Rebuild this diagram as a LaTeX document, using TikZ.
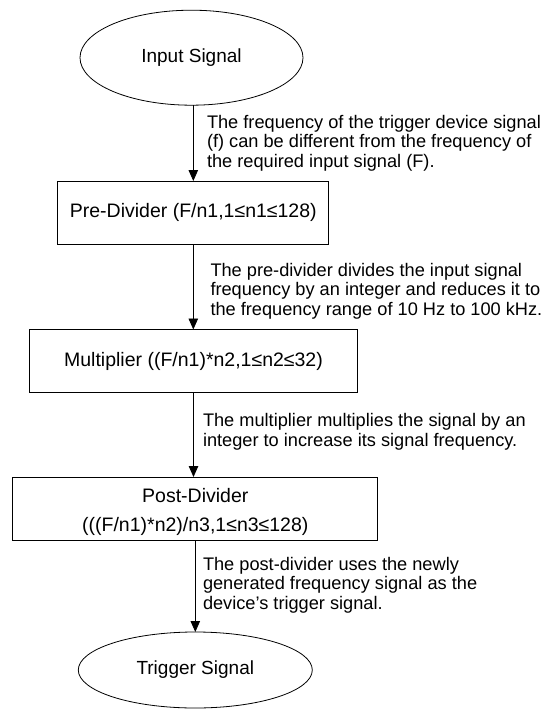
\documentclass[tikz,border=0pt]{standalone}
\usepackage{fontspec}
\setmainfont{Liberation Sans}
\usetikzlibrary{shapes.geometric,arrows.meta}
\begin{document}
\begin{tikzpicture}[x=1pt,y=-1pt,
  every node/.style={inner sep=0pt, outer sep=0pt},
  term/.style={draw, ellipse, line width=0.8pt, font=\fontsize{19}{22}\selectfont},
  procbox/.style={draw, rectangle, line width=0.8pt, align=center, font=\fontsize{19.5}{29}\selectfont},
  note/.style={anchor=west, align=left, font=\fontsize{18.2}{19.6}\selectfont},
  flow/.style={draw, line width=0.8pt, -{Triangle[width=9.5pt,length=11pt]}}]
\useasboundingbox (0,0) rectangle (541,709);
\node[term, minimum width=223pt, minimum height=95pt] (in) at (191.5,57.7) {Input Signal};
\node[procbox, minimum width=271pt, minimum height=63pt] (pre) at (193.3,212.5) {Pre-Divider (F/n1,1≤n1≤128)};
\node[procbox, minimum width=328pt, minimum height=63pt] (mul) at (193.5,361) {Multiplier ((F/n1)*n2,1≤n2≤32)};
\node[procbox, minimum width=365pt, minimum height=63pt] (post) at (195.3,508.5) {\rule{0pt}{22pt}Post-Divider\\[0pt](((F/n1)*n2)/n3,1≤n3≤128)};
\node[term, minimum width=234pt, minimum height=76pt] (trig) at (195.3,670) {Trigger Signal};
\draw[flow] (in.south -| pre.north) -- (pre.north);
\draw[flow] (pre.south) -- (pre.south |- mul.north);
\draw[flow] (mul.south) -- (mul.south |- post.north);
\draw[flow] (post.south) -- (trig.north);
\node[note] (n1) at (207,143) {The frequency of the trigger device signal\\(f) can be different from the frequency of\\the required input signal (F).};
\node[note] (n2) at (210.5,291) {The pre-divider divides the input signal\\frequency by an integer and reduces it to\\the frequency range of 10 Hz to 100 kHz.};
\node[note] (n3) at (203,432) {The multiplier multiplies the signal by an\\integer to increase its signal frequency.};
\node[note] (n4) at (203,585) {The post-divider uses the newly\\generated frequency signal as the\\device’s trigger signal.};
\end{tikzpicture}
\end{document}
